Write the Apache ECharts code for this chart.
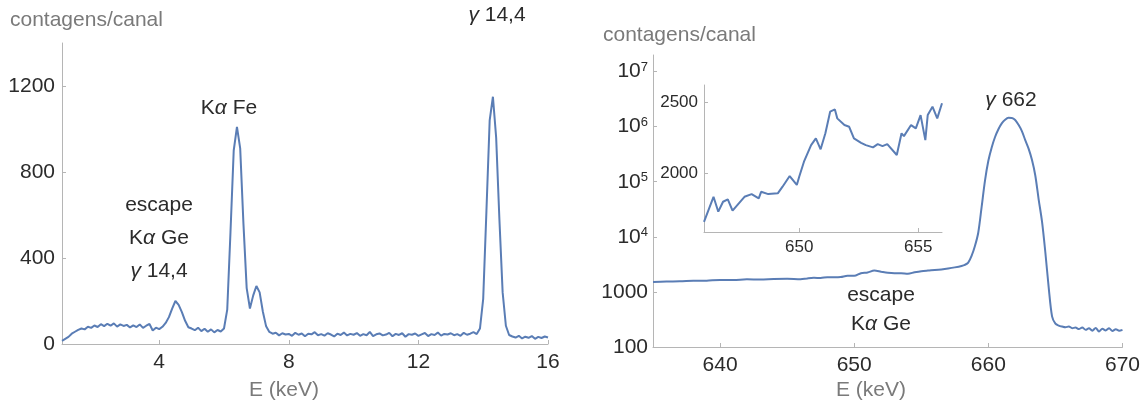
<!DOCTYPE html>
<html>
<head>
<meta charset="utf-8">
<title>Espectros</title>
<script src="https://cdn.jsdelivr.net/npm/echarts@6/dist/echarts.min.js"></script>
<style>
  html, body { margin: 0; padding: 0; background: #fff; }
  #main { width: 1143px; height: 403px; }
</style>
</head>
<body>
<div id="main"></div>
<script>
// --- left spectrum: 57Co source, 1 to 16 keV, one value per 0.1 keV ---
var leftStartKeV = 1.0;
var leftStepKeV = 0.1;
var leftCounts = [
  15, 24, 33, 48, 57, 66, 72, 68, 80, 75,
  86, 79, 92, 83, 94, 85, 96, 81, 91, 84,
  89, 77, 87, 79, 91, 75, 85, 93, 63, 76,
  69, 80, 98, 125, 165, 200, 182, 148, 108, 78,
  72, 64, 76, 60, 71, 57, 68, 54, 65, 58,
  72, 160, 520, 900, 1010, 910, 560, 260, 165, 225,
  270, 240, 150, 82, 56, 48, 52, 40, 50, 44,
  47, 38, 52, 43, 49, 36, 48, 45, 55, 41,
  46, 39, 50, 44, 35, 48, 42, 53, 40, 47,
  43, 51, 38, 46, 41, 56, 37, 45, 49, 40,
  44, 52, 36, 47, 42, 50, 34, 46, 43, 49,
  38, 45, 51, 37, 46, 42, 53, 39, 47, 44,
  50, 41, 46, 38, 52, 43, 48, 55, 46, 72,
  210, 620, 1040, 1150, 960, 580, 240, 85, 42, 35,
  30, 38, 26, 34, 29, 37, 24, 33, 28, 35,
  30
];
var leftXTicks = [4, 8, 12, 16];
var leftYTicks = [0, 400, 800, 1200];

// --- right spectrum: 137Cs around 662 keV (log scale) ---
var rightEnergy = [
  635, 636, 637, 638, 639, 640, 641, 642, 643, 644, 645, 646,
  646.5, 647, 647.5, 648, 648.5, 649, 649.5, 650, 650.5, 651, 651.5, 652,
  652.5, 653, 653.5, 654, 654.5, 655, 655.5, 656, 656.5, 657, 657.5, 658,
  658.25, 658.5, 658.75, 659, 659.25, 659.5, 659.75, 660,
  660.25, 660.5, 660.75, 661, 661.25, 661.5, 661.75, 662,
  662.25, 662.5, 662.75, 663, 663.25, 663.5, 663.75, 664,
  664.25, 664.5, 664.75, 665, 665.25, 665.5, 665.75, 666,
  666.25, 666.5, 666.75, 667, 667.25, 667.5, 667.75, 668,
  668.25, 668.5, 668.75, 669, 669.25, 669.5, 669.75, 670
];
var rightCounts = [
  1510, 1540, 1555, 1590, 1600, 1650, 1640, 1690, 1680, 1720, 1735, 1700,
  1760, 1800, 1790, 1850, 1840, 1860, 1960, 1960, 2190, 2260, 2440, 2330,
  2230, 2190, 2190, 2140, 2270, 2380, 2440, 2490, 2560, 2660, 2790, 2960,
  3100, 3400, 4500, 6800, 12000, 35000, 105000, 240000,
  420000, 650000, 900000, 1150000, 1340000, 1450000, 1440000, 1320000,
  1080000, 830000, 570000, 400000, 250000, 130000, 48000, 19000,
  5200, 1200, 360, 265, 245, 235, 228, 236,
  220, 225, 212, 226, 205, 218, 198, 222,
  192, 214, 200, 218, 196, 210, 198, 205
];
var rightXTicks = [640, 650, 660, 670];
var rightYTicks = [100, 1000, 1e4, 1e5, 1e6, 1e7];

// --- inset: zoom on the escape peak, linear scale ---
var insetEnergy = [
  646.0, 646.4, 646.6, 646.8, 647.0, 647.2, 647.7, 648.0, 648.3, 648.4,
  648.7, 649.1, 649.3, 649.6, 649.9, 650.0, 650.2, 650.5, 650.7, 650.9,
  651.1, 651.3, 651.5, 651.6, 651.9, 652.1, 652.3, 652.6, 652.8, 653.1,
  653.3, 653.5, 653.7, 654.1, 654.3, 654.4, 654.7, 654.9, 655.1, 655.3,
  655.4, 655.6, 655.8, 656.0
];
var insetCounts = [
  1657, 1833, 1728, 1798, 1815, 1735, 1833, 1852, 1822, 1868,
  1852, 1857, 1904, 1979, 1916, 1974, 2080, 2197, 2244, 2167,
  2280, 2432, 2448, 2385, 2338, 2326, 2244, 2213, 2197, 2181,
  2204, 2190, 2204, 2127, 2280, 2260, 2338, 2315, 2408, 2232,
  2408, 2467, 2385, 2491
];
var insetXTicks = [650, 655];
var insetYTicks = [2000, 2500];

var font = "'Liberation Sans', Arial, sans-serif";
var blue = '#5a7db5';
var axisGray = '#b5b5b5';
var textDark = '#2b2b2b';
var textGray = '#7a7a7a';

var leftData = leftCounts.map(function (c, i) {
  return [leftStartKeV + i * leftStepKeV, c];
});
var rightData = rightEnergy.map(function (e, i) { return [e, rightCounts[i]]; });
var insetData = insetEnergy.map(function (e, i) { return [e, insetCounts[i]]; });

function plain(v) { return String(Math.round(v)); }

function axisCommon(fontSize, margin) {
  return {
    type: 'value',
    splitLine: { show: false },
    axisLine: { show: true, onZero: false, lineStyle: { color: axisGray, width: 1 } },
    axisTick: { show: true, inside: true, length: 4, lineStyle: { color: axisGray } },
    axisLabel: { color: textDark, fontFamily: font, fontSize: fontSize, margin: margin }
  };
}

function mk(base, extra) {
  var o = JSON.parse(JSON.stringify(base));
  for (var k in extra) {
    if (typeof extra[k] === 'object' && !Array.isArray(extra[k]) && o[k]) {
      for (var j in extra[k]) o[k][j] = extra[k][j];
    } else {
      o[k] = extra[k];
    }
  }
  return o;
}

var myChart = echarts.init(document.getElementById('main'));

var option = {
  animation: false,
  backgroundColor: '#fff',
  grid: [
    { left: 62, top: 43, width: 486, height: 301 },
    { left: 653, top: 55, width: 471, height: 292 },
    { left: 704, top: 85, width: 238, height: 147 }
  ],
  xAxis: [
    mk(axisCommon(21, 8), {
      gridIndex: 0, min: 1, max: 16,
      axisTick: { customValues: leftXTicks },
      axisLabel: { customValues: leftXTicks, formatter: plain }
    }),
    mk(axisCommon(21, 8), {
      gridIndex: 1, min: 635, max: 670,
      axisTick: { customValues: rightXTicks },
      axisLabel: { customValues: rightXTicks, formatter: plain }
    }),
    mk(axisCommon(17, 7), {
      gridIndex: 2, min: 646, max: 656,
      axisTick: { customValues: insetXTicks },
      axisLabel: { customValues: insetXTicks, formatter: plain }
    })
  ],
  yAxis: [
    mk(axisCommon(21, 7), {
      gridIndex: 0, min: 0, max: 1400,
      axisTick: { customValues: leftYTicks },
      axisLabel: { customValues: leftYTicks, formatter: plain }
    }),
    mk(axisCommon(21, 5), {
      gridIndex: 1, type: 'log', logBase: 10, min: 100, max: 2e7,
      axisTick: { customValues: rightYTicks },
      axisLabel: {
        customValues: rightYTicks,
        rich: { sup: { fontSize: 13, fontFamily: font, color: textDark, verticalAlign: 'top', padding: [0, 0, 9, 0] } }
      }
    }),
    mk(axisCommon(17, 6), {
      gridIndex: 2, min: 1585, max: 2620,
      axisTick: { customValues: insetYTicks },
      axisLabel: { customValues: insetYTicks, formatter: plain }
    })
  ],
  series: [
    {
      type: 'line', xAxisIndex: 0, yAxisIndex: 0, data: leftData,
      showSymbol: false, lineStyle: { color: blue, width: 2 }, clip: true
    },
    {
      type: 'line', xAxisIndex: 1, yAxisIndex: 1, data: rightData,
      showSymbol: false, smooth: 0.3, lineStyle: { color: blue, width: 2 }, clip: true
    },
    {
      type: 'line', xAxisIndex: 2, yAxisIndex: 2, data: insetData,
      showSymbol: false, lineStyle: { color: blue, width: 2 }, clip: true
    }
  ],
  graphic: []
};

// log axis labels: 10^n with superscript
option.yAxis[1].axisLabel.formatter = function (v) {
  var p = Math.round(Math.log(v) / Math.LN10);
  if (p <= 3) return String(Math.round(v));
  return '10{sup|' + p + '}';
};

function txt(x, y, text, color, extra) {
  var style = {
    text: text, fill: color, fontFamily: font, fontSize: 21,
    align: 'center', verticalAlign: 'middle',
    rich: { i: { fontStyle: 'italic', fontFamily: font, fontSize: 21, fill: color } }
  };
  for (var k in extra) style[k] = extra[k];
  return { type: 'text', x: x, y: y, silent: true, style: style };
}

option.graphic = [
  txt(10, 20, 'contagens/canal', textGray, { align: 'left' }),
  txt(603, 35, 'contagens/canal', textGray, { align: 'left' }),
  txt(284, 390, 'E (keV)', textGray),
  txt(871, 390, 'E (keV)', textGray),
  txt(229, 108, 'K{i|α} Fe', textDark),
  txt(497, 15, '{i|γ} 14,4', textDark),
  txt(159, 238, 'escape\nK{i|α} Ge\n{i|γ} 14,4', textDark, { lineHeight: 33 }),
  txt(1011, 100, '{i|γ} 662', textDark),
  txt(881, 310, 'escape\nK{i|α} Ge', textDark, { lineHeight: 29 })
];

myChart.setOption(option);
</script>
</body>
</html>
